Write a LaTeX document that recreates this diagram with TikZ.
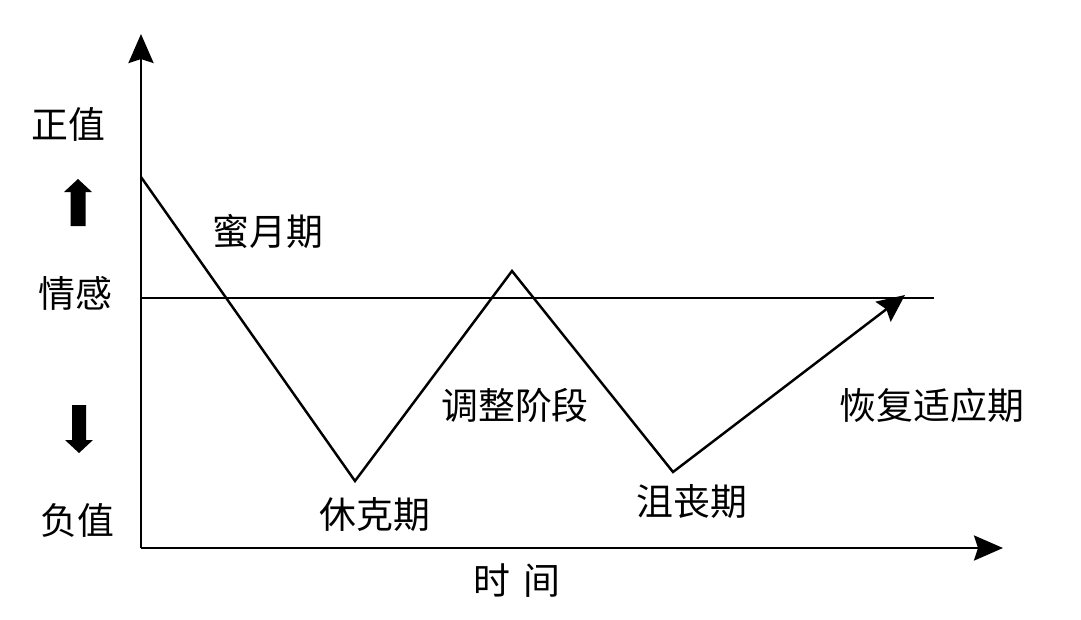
\documentclass[tikz,border=0pt]{standalone}
\usepackage{fontspec}
\newfontfamily\cjk{Noto Sans CJK SC}
\usepackage{xcolor}
\definecolor{cLine}{HTML}{000000}
\usetikzlibrary{arrows.meta}
\tikzset{
  node-label/.style={font=\cjk\fontsize{21pt}{24pt}\selectfont,inner sep=0pt,anchor=center},
  axis-line/.style={line width=1.6pt,draw=cLine,
    -{Stealth[length=0.58cm,width=0.5cm,inset=0.08cm]}},
  curve-line/.style={line width=1.4pt,draw=cLine,line join=miter,
    -{Stealth[length=0.55cm,width=0.5cm,inset=0.08cm]}},
  ref-line/.style={line width=1.4pt,draw=cLine},
  block-arrow/.style={fill=cLine},
}
\begin{document}
\begin{tikzpicture}[x=0.02cm,y=-0.02cm]
  \useasboundingbox (0,0) rectangle (1081,619);
  % axes
  \coordinate (o) at (141,548);
  \coordinate (ytop) at (141,34);
  \coordinate (xend) at (1003,548);
  \draw[axis-line] (o) -- (ytop);
  \draw[axis-line] (o) -- (xend);

  % neutral line
  \coordinate (h0) at (141,298);
  \coordinate (h1) at (934,298);
  \draw[ref-line] (h0) -- (h1);

  % emotion curve
  \coordinate (p0) at (141,177);
  \coordinate (p1) at (355,481);
  \coordinate (p2) at (512,271);
  \coordinate (p3) at (673,472);
  \coordinate (p4) at (905,295);
  \draw[curve-line] (p0) -- (p1) -- (p2) -- (p3) -- (p4);

  % y labels
  \node[node-label] (pos) at (68,124) {正值};
  \node[node-label] (emo) at (75,293) {情感};
  \node[node-label] (neg) at (77,520) {负值};
  \fill[block-arrow] (70.5,226) -- (70.5,192) -- (64,192) -- (78,179)
    -- (92,192) -- (85.5,192) -- (85.5,226) -- cycle;
  \fill[block-arrow] (72,405) -- (72,440) -- (65,440) -- (79,453)
    -- (93,440) -- (86,440) -- (86,405) -- cycle;

  % stages
  \node[node-label] (honey) at (268,231) {蜜月期};
  \node[node-label] (shock) at (375,515) {休克期};
  \node[node-label] (adjust) at (515,405) {调整阶段};
  \node[node-label] (frust) at (692,502) {沮丧期};
  \node[node-label] (recov) at (932,405) {恢复适应期};
  \node[node-label] (time) at (517,581) {时\,\,间};
\end{tikzpicture}
\end{document}
